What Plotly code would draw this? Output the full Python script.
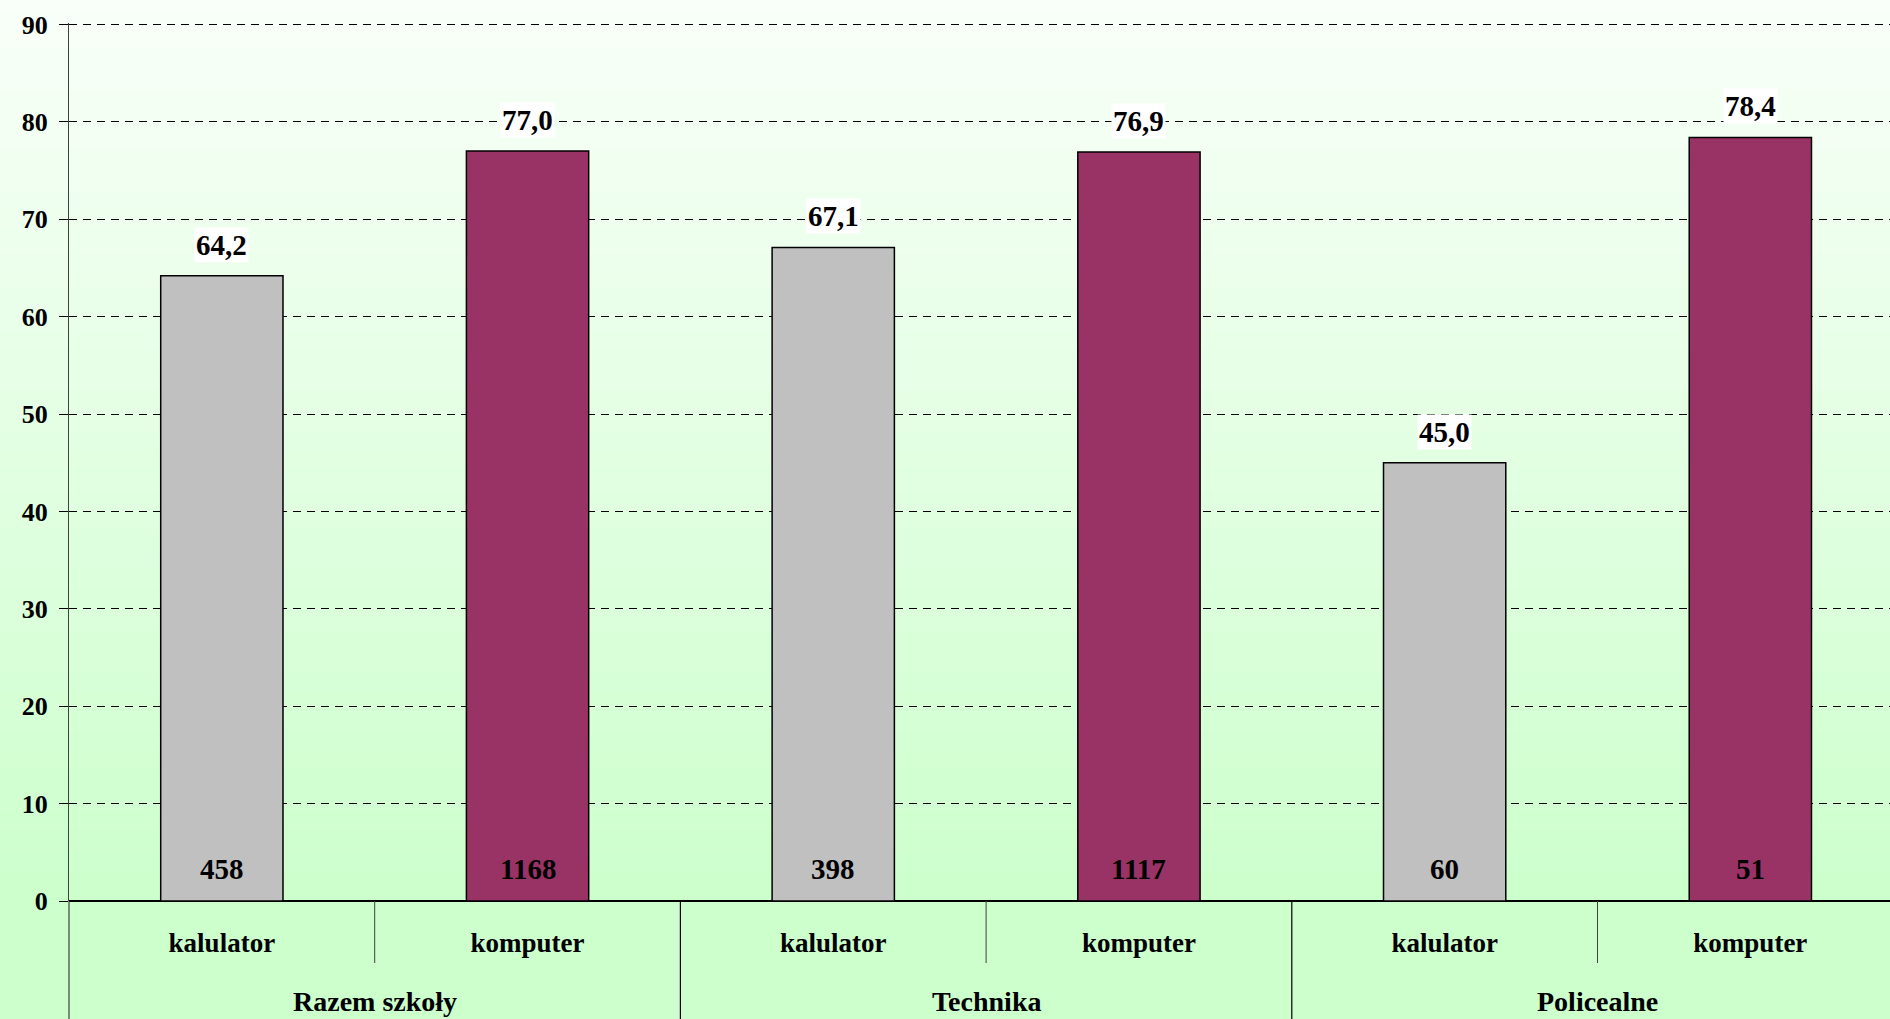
import plotly.graph_objects as go

# ---- data ----
groups = ["Razem szkoły", "Technika", "Policealne"]
subcats = ["kalulator", "komputer"]
values = [64.2, 77.0, 67.1, 76.9, 45.0, 78.4]
counts = [458, 1168, 398, 1117, 60, 51]
y_ticks = [0, 10, 20, 30, 40, 50, 60, 70, 80, 90]

# ---- style ----
FONT = "Liberation Serif"
sub_colors = {"kalulator": "#C0C0C0", "komputer": "#993366"}

W, H = 1890, 1019
ML, MR, MT, MB = 69, 0, 23, 118
plot_h = H - MT - MB
plot_w = W - ML - MR
CAT_PX = 305.7          # width of one category in pixels (plot runs past right edge)
Y_MAX = 90.15

x_idx = list(range(len(values)))
x_sub = [subcats[i % len(subcats)] for i in x_idx]
bar_colors = [sub_colors[s] for s in x_sub]
n_sub = len(subcats)

fig = go.Figure()
fig.add_trace(go.Bar(
    x=x_idx, y=values, width=0.4,
    marker=dict(color=bar_colors, line=dict(color="black", width=1.5)),
    hoverinfo="skip", showlegend=False,
))

annotations = []
for i, v in zip(x_idx, values):
    annotations.append(dict(
        x=i, y=v, xref="x", yref="y", yanchor="bottom", yshift=13,
        text=f"{v:.1f}".replace(".", ","), showarrow=False,
        bgcolor="white", borderpad=1,
        font=dict(family=FONT, size=29, color="black", weight="bold"),
    ))
for i, c in zip(x_idx, counts):
    annotations.append(dict(
        x=i, y=0, xref="x", yref="y", yanchor="middle", yshift=32,
        text=str(c), showarrow=False,
        font=dict(family=FONT, size=29, color="black", weight="bold"),
    ))
for g, name in enumerate(groups):
    annotations.append(dict(
        x=g * n_sub + (n_sub - 1) / 2, y=0, xref="x", yref="y",
        yanchor="middle", yshift=-100,
        text=name, showarrow=False,
        font=dict(family=FONT, size=28, color="black", weight="bold"),
    ))

shapes = []
# gradient background (plot area + top margin), stripes
top_c = (249, 255, 249)
bot_c = (204, 255, 204)
N = 150
y_top = 1 + MT / plot_h
for k in range(N):
    t0 = k / N
    t1 = (k + 1) / N
    tm = (t0 + t1) / 2
    col = tuple(round(bot_c[j] + (top_c[j] - bot_c[j]) * tm) for j in range(3))
    shapes.append(dict(
        type="rect", xref="paper", yref="paper", layer="below",
        x0=-ML / plot_w, x1=1.0, y0=t0 * y_top, y1=t1 * y_top + 0.002,
        fillcolor="rgb(%d,%d,%d)" % col, line=dict(width=0),
    ))
# y axis line continued through the label area
shapes.append(dict(type="line", xref="paper", yref="paper", x0=0, x1=0,
                   y0=0, y1=-MB / plot_h - 0.01, line=dict(color="#404040", width=1.2)))
for g in range(len(groups)):
    # short divider between sub-categories
    xm = g * n_sub + 0.5
    shapes.append(dict(type="line", xref="x", yref="paper", x0=xm, x1=xm,
                       y0=0, y1=-62 / plot_h, line=dict(color="#404040", width=1)))
    # long divider at group boundary
    if g > 0:
        xb = g * n_sub - 0.5
        shapes.append(dict(type="line", xref="x", yref="paper", x0=xb, x1=xb,
                           y0=0, y1=-MB / plot_h - 0.01, line=dict(color="black", width=1.2)))

fig.update_layout(
    width=W, height=H,
    margin=dict(l=ML, r=MR, t=MT, b=MB, pad=0),
    paper_bgcolor="#CCFFCC",
    plot_bgcolor="rgba(0,0,0,0)",
    shapes=shapes,
    annotations=annotations,
    font=dict(family=FONT, size=26, color="black"),
    xaxis=dict(
        range=[-0.5, -0.5 + plot_w / CAT_PX],
        tickmode="array", tickvals=x_idx, ticktext=x_sub,
        tickfont=dict(family=FONT, size=27, color="black", weight="bold"),
        ticks="", ticklabelstandoff=23,
        showgrid=False, zeroline=False,
        showline=False, fixedrange=True,
    ),
    yaxis=dict(
        range=[0, Y_MAX], tickmode="array", tickvals=y_ticks,
        tickfont=dict(family=FONT, size=26, color="black", weight="bold"),
        ticks="outside", ticklen=9, tickcolor="black", tickwidth=1,
        ticklabelstandoff=6,
        showgrid=True, gridcolor="black", gridwidth=1, griddash="8px,6px",
        zeroline=True, zerolinecolor="black", zerolinewidth=1.5,
        showline=True, linecolor="#404040", linewidth=1.2,
        fixedrange=True,
    ),
)

fig.write_html("out.html", post_script="document.body.style.margin='0';document.body.style.overflow='hidden';",
               config={"displayModeBar": False})
